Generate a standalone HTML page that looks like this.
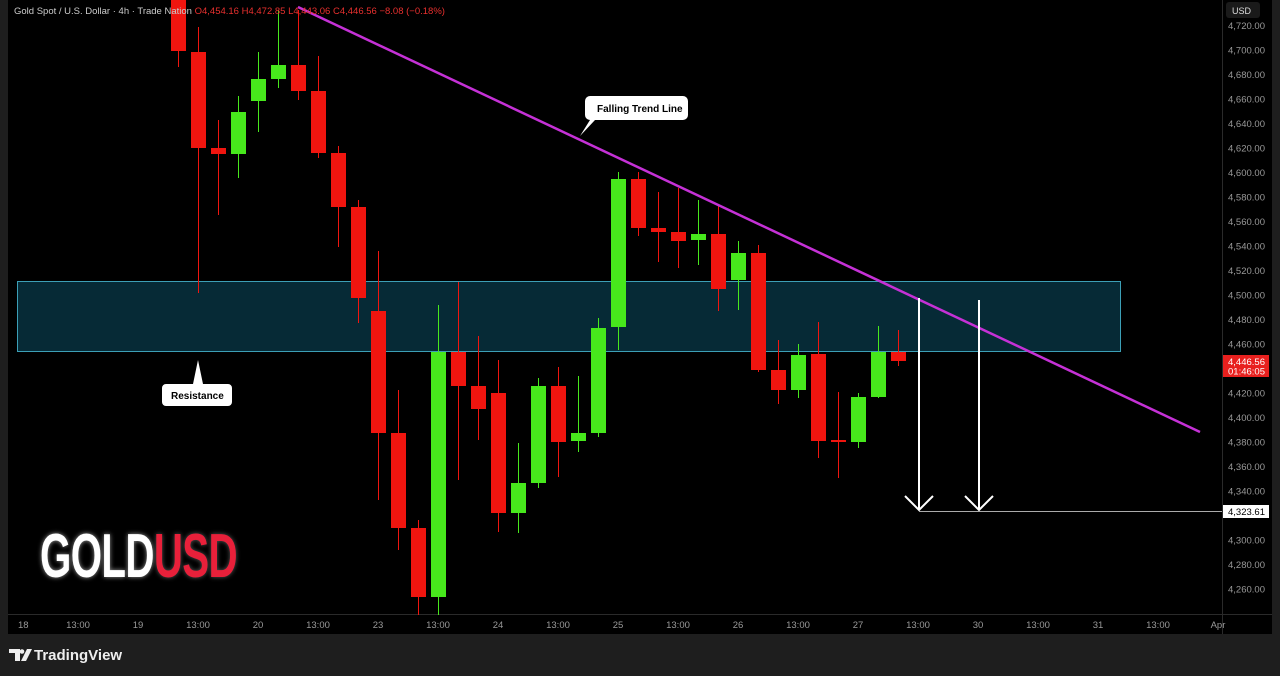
<!DOCTYPE html>
<html><head><meta charset="utf-8"><style>
html,body{margin:0;padding:0;background:#1e1e1e;width:1280px;height:676px;overflow:hidden;position:relative}
svg{display:block}
text{font-family:"Liberation Sans",sans-serif}
#logo{position:absolute;left:40px;top:526px;font-family:"Liberation Sans",sans-serif;font-weight:bold;font-size:62px;line-height:62px;letter-spacing:-1px;transform:scaleX(0.65);transform-origin:left top;white-space:nowrap}
#logo .g{color:#fff;text-shadow:0 0 6px rgba(255,255,255,.6)}
#logo .u{color:#e8203a;text-shadow:0 0 6px rgba(255,255,255,.35)}
</style></head><body>
<svg width="1280" height="676" viewBox="0 0 1280 676">
<rect x="0" y="0" width="1280" height="676" fill="#1e1e1e"/>
<rect x="8" y="0" width="1264" height="634" fill="#000"/>
<line x1="8" y1="614.5" x2="1272" y2="614.5" stroke="#2a2a2a"/>
<line x1="1222.5" y1="0" x2="1222.5" y2="634" stroke="#2a2a2a"/>
<rect x="1226" y="2" width="34" height="16" rx="3" fill="#1a1a1a"/>
<text x="1232" y="14" fill="#ddd" font-size="9">USD</text>
<g fill="#999" font-size="9.5" id="pl"></g>
<rect x="17.5" y="281.5" width="1103" height="70" fill="#062a36" stroke="#3c9fb6" stroke-width="1"/>
<g id="c"></g>
<line x1="298" y1="7" x2="1200" y2="432" stroke="#c531d6" stroke-width="2.5"/>
<line x1="919" y1="298" x2="919" y2="510" stroke="#fff" stroke-width="2"/>
<polyline points="905,496 919,510 933,496" fill="none" stroke="#fff" stroke-width="2"/>
<line x1="979" y1="300" x2="979" y2="510" stroke="#fff" stroke-width="2"/>
<polyline points="965,496 979,510 993,496" fill="none" stroke="#fff" stroke-width="2"/>
<line x1="919" y1="511.5" x2="1222" y2="511.5" stroke="#aaa" stroke-width="1"/>
<rect x="1223" y="505" width="46" height="13" fill="#fff"/>
<text x="1228" y="515" fill="#000" font-size="9.5">4,323.61</text>
<rect x="1223" y="355" width="46" height="22" fill="#e8201e"/>
<text x="1228" y="365" fill="#fff" font-size="9.5">4,446.56</text>
<text x="1228" y="374.5" fill="#fff" font-size="9.5">01:46:05</text>
<path d="M590,96 H683 a5,5 0 0 1 5,5 V115 a5,5 0 0 1 -5,5 H595 L580,136 L590,120 H590 a5,5 0 0 1 -5,-5 V101 a5,5 0 0 1 5,-5z" fill="#fff"/>
<text x="597" y="112" fill="#000" font-size="10" font-weight="bold">Falling Trend Line</text>
<path d="M166,384 H228 a4,4 0 0 1 4,4 V402 a4,4 0 0 1 -4,4 H166 a4,4 0 0 1 -4,-4 V388 a4,4 0 0 1 4,-4 H193 L198,360 L203,384z" fill="#fff"/>
<text x="171" y="399" fill="#000" font-size="10" font-weight="bold">Resistance</text>
<text x="14" y="14" fill="#ccc" font-size="9.5">Gold Spot / U.S. Dollar · 4h · Trade Nation <tspan fill="#e8302e">O4,454.16 H4,472.85 L4,443.06 C4,446.56 −8.08 (−0.18%)</tspan></text>
<g fill="#999" font-size="9.5" id="tl"></g>
<path d="M9,649 h11 v12 h-5 v-8 h-6z" fill="#eee"/>
<path d="M21,661 l6,-12 h5 l-6,12z" fill="#eee"/>
<circle cx="22" cy="651.5" r="2.3" fill="#eee"/>
<text x="34" y="660" fill="#eee" font-size="15" font-weight="600">TradingView</text>
</svg>
<div id="logo"><span class="g">GOLD</span><span class="u">USD</span></div>
<script>
var ns="http://www.w3.org/2000/svg";
function y(p){return 25.5+(4720-p)*1.225;}
var pl=document.getElementById('pl');
for(var p=4720;p>=4260;p-=20){if(p==4440||p==4320)continue;var t=document.createElementNS(ns,'text');t.setAttribute('x',1228);t.setAttribute('y',y(p)+3.5);t.textContent=p.toLocaleString('en-US')+'.00';pl.appendChild(t);}
var tl=document.getElementById('tl');
var lab=['18','13:00','19','13:00','20','13:00','23','13:00','24','13:00','25','13:00','26','13:00','27','13:00','30','13:00','31','13:00','Apr'];
lab.forEach(function(s,i){var t=document.createElementNS(ns,'text');t.setAttribute('x',18+60*i);t.setAttribute('y',628);t.setAttribute('text-anchor',i==0?'start':'middle');t.textContent=s;tl.appendChild(t);});
var C=[[178,0,51,0,67,0],[198,52,148,27,293,0],[218,148,154,120,215,0],[238,112,154,96,178,1],[258,79,101,52,132,1],[278,65,79,10,88,1],[298,65,91,10,100,0],[318,91,153,56,158,0],[338,153,207,146,247,0],[358,207,298,200,323,0],[378,311,433,251,500,0],[398,433,528,390,550,0],[418,528,597,520,615,0],[438,352,597,305,615,1],[458,352,386,282,480,0],[478,386,409,336,440,0],[498,393,513,360,532,0],[518,483,513,443,533,1],[538,386,483,378,488,1],[558,386,442,367,477,0],[578,433,441,376,452,1],[598,328,433,318,437,1],[618,179,327,172,350,1],[638,179,228,172,236,0],[658,228,232,192,262,0],[678,232,241,188,268,0],[698,234,240,200,265,1],[718,234,289,206,311,0],[738,253,280,241,310,1],[758,253,370,245,372,0],[778,370,390,340,404,0],[798,355,390,344,398,1],[818,354,441,322,458,0],[838,440,442,392,478,0],[858,397,442,393,448,1],[878,352,397,326,398,1],[898,352,361,330,366,0]];
var g=document.getElementById('c');
C.forEach(function(c){var col=c[5]?'#47e81c':'#f0150f';var l=document.createElementNS(ns,'line');l.setAttribute('x1',c[0]+.5);l.setAttribute('x2',c[0]+.5);l.setAttribute('y1',c[3]);l.setAttribute('y2',c[4]);l.setAttribute('stroke',col);g.appendChild(l);var r=document.createElementNS(ns,'rect');r.setAttribute('x',c[0]-7);r.setAttribute('width',15);r.setAttribute('y',c[1]);r.setAttribute('height',Math.max(2,c[2]-c[1]));r.setAttribute('fill',col);g.appendChild(r);});
</script>
</body></html>
